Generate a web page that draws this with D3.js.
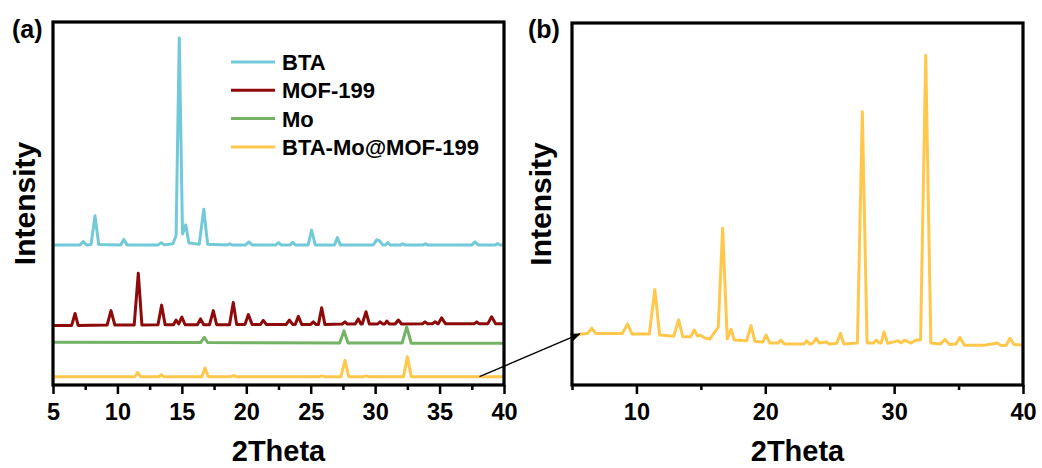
<!DOCTYPE html>
<html>
<head>
<meta charset="utf-8">
<script src="https://cdn.jsdelivr.net/npm/d3@7"></script>
<style>
	body{margin:0;background:#fff}
	text{font-family:Arial,"Liberation Sans",sans-serif;font-weight:bold;fill:#000}
</style>
</head>
<body>
<div id="fig"></div>
<script>

// ticks
var xTicksA=[5,10,15,20,25,30,35,40]
var xMinorA=[7.5,12.5,17.5,22.5,27.5,32.5,37.5]
var xTicksB=[10,20,30,40]
var xMinorB=[5,15,25,35]

var seriesNames=["BTA","MOF-199","Mo","BTA-Mo@MOF-199"]
// vertical stacking of the patterns in panel (a)
var offsets=[386,164,118,23]

// patterns: [2theta, intensity above own baseline]
var bta=[[5,0],[7.1,0],[7.35,9],[7.6,0],[7.95,1],[8.26,80],[8.55,1],[10.25,0],[10.5,15],[10.75,0],
	[13.15,0],[13.4,6],[13.65,0],[14.3,3],[14.55,25],[14.8,570],[15.05,30],[15.3,55],[15.55,5],[16.35,2],
	[16.7,98],[17.0,2],[18.5,0],[18.7,3],[18.9,0],[19.95,0],[20.2,8],[20.45,0],[22.3,0],[22.5,6],
	[22.7,0],[23.4,0],[23.6,7],[23.8,0],[24.8,0],[25.07,41],[25.35,0],[26.85,0],[27.07,20],[27.3,0],
	[29.85,0],[30.12,14],[30.35,11],[30.6,0],[30.8,0],[30.97,6],[31.15,0],[32,0],[32.14,3],[32.3,0],
	[33.75,0],[33.9,3],[34.05,0],[37.5,0],[37.75,8],[38,0],[39.35,0],[39.5,4],[39.65,0],[40,0]]

var mof=[[5,0],[6.45,0],[6.71,33],[6.95,0],[9.2,1],[9.5,41],[9.8,1],[11.3,1],[11.62,144],[11.9,1],
	[13.15,2],[13.43,56],[13.7,2],[14.35,2],[14.55,15],[14.75,4],[15.0,23],[15.25,2],[16.2,2],[16.45,18],
	[16.7,2],[17.15,2],[17.44,41],[17.7,2],[18.7,2],[18.99,63],[19.25,3],[19.9,3],[20.16,30],[20.45,3],
	[21.1,3],[21.32,14],[21.55,3],[23.1,3],[23.34,15],[23.6,3],[23.8,3],[24.04,25],[24.3,3],[25.0,3],
	[25.2,10],[25.4,3],[25.6,3],[25.85,49],[26.1,3],[27.45,4],[27.66,10],[27.85,4],[28.45,4],[28.69,18],
	[28.9,4],[29.0,4],[29.29,38],[29.55,4],[30.2,4],[30.38,10],[30.6,4],[30.75,4],[30.9,12],[31.1,4],
	[31.55,4],[31.8,15],[32.05,4],[33.7,5],[33.87,10],[34.05,5],[34.45,5],[34.65,10],[34.85,5],[34.9,5],
	[35.16,21],[35.45,5],[37.7,5],[37.88,10],[38.05,5],[38.75,5],[39.04,24],[39.35,5],[40,5]]

var mo=[[5,0],[16.45,-1],[16.74,13],[17.0,-1],[27.25,-2],[27.58,31],[27.9,-2],[32.1,-2],[32.45,42],[32.8,-3],[40,-3]]

var btaMo=[[5,0],[11.35,0],[11.57,11],[11.8,0],[13.2,0],[13.4,5],[13.6,0],[16.55,0],[16.8,24],[17.05,0],
	[18.8,0],[19.0,3],[19.2,0],[25.65,0],[25.85,2],[26.05,0],[27.35,0],[27.66,45],[27.95,0],[29.1,0],
	[29.3,2],[29.5,0],[32.2,0],[32.5,55],[32.8,0],[40,0]]

// panel (b): BTA-Mo@MOF-199 enlarged
var btaMoZoom=[[5,133],[5.7,141],[6.2,142],[6.53,157],[6.85,142],[8.9,142],[9.3,168],[9.65,141],[11.0,141],[11.43,264],
	[11.8,138],[12.9,135],[13.27,180],[13.6,133],[14.2,133],[14.49,152],[14.75,135],[14.95,138],[15.3,130],[15.7,127],
	[16.05,145],[16.35,160],[16.69,433],[17.05,127],[17.34,154],[17.6,124],[18.55,122],[18.89,164],[19.2,120],[19.8,119],
	[20.06,138],[20.35,116],[21.0,116],[21.2,124],[21.5,113],[23.0,113],[23.2,122],[23.45,113],[23.7,116],[23.94,129],
	[24.2,116],[24.7,119],[25.0,113],[25.55,115],[25.84,143],[26.1,113],[27.15,116],[27.53,755],[27.9,116],[28.4,116],
	[28.62,124],[28.85,116],[29.0,116],[29.21,147],[29.5,115],[30.3,122],[30.55,116],[30.8,124],[31.3,116],[31.7,124],
	[32.05,124],[32.45,911],[32.85,116],[33.6,113],[33.93,126],[34.3,112],[34.8,113],[35.1,132],[35.45,110],[37.0,110],
	[38.0,116],[38.3,109],[38.7,110],[38.99,129],[39.3,112],[40,110]]

var colors=["#72C9D8","#8E0A0A","#74B266","#FFC84C"]


class XrdPanel{

	constructor(svg,box,label){
		this.svg=svg
		this.box=box
		this.label=label
		this.g=svg.append("g")
		this.x=d3.scaleLinear().domain([5,40]).range([box.left,box.right])
		this.y=d3.scaleLinear().domain([0,1000]).range([box.bottom,box.top])
	}

	drawAxis(ticks,minor){
		var b=this.box
		var ax=this.g.append("g")
			.attr("transform","translate(0,"+b.bottom+")")
			.call(d3.axisBottom(this.x).tickValues(ticks).tickSize(9).tickPadding(9).tickFormat(d3.format("d")))
		ax.select(".domain").remove()
		ax.selectAll("line").attr("stroke","#000").attr("stroke-width",2.5)
		ax.selectAll("text").attr("font-size",23.5).style("font-family","Arial, 'Liberation Sans', sans-serif").style("font-weight","bold")

		var mx=this.g.append("g")
			.attr("transform","translate(0,"+b.bottom+")")
			.call(d3.axisBottom(this.x).tickValues(minor).tickSize(5).tickFormat(""))
		mx.select(".domain").remove()
		mx.selectAll("line").attr("stroke","#000").attr("stroke-width",2.5)

		var cx=(b.left+b.right)/2
		var cy=(b.top+b.bottom)/2
		this.g.append("text")
			.text("2Theta")
			.attr("x",cx)
			.attr("y",461)
			.attr("text-anchor","middle")
			.attr("font-size",29)

		this.g.append("text")
			.text("Intensity")
			.attr("transform","translate("+b.titleX+","+cy+") rotate(-90)")
			.attr("text-anchor","middle")
			.attr("dy","0.36em")
			.attr("font-size",30)

		this.g.append("text")
			.text(this.label)
			.attr("x",b.titleX-12)
			.attr("y",38)
			.attr("font-size",25)
	}

	drawLine(data,offset,color){
		var thi=this
		var line=d3.line()
			.x(function(d){ return thi.x(d[0]) })
			.y(function(d){ return thi.y(d[1]+offset) })
		return this.g.append("path")
			.datum(data)
			.attr("fill","none")
			.attr("stroke",color)
			.attr("stroke-width",3)
			.attr("stroke-linejoin","round")
			.attr("d",line)
	}

	drawFrame(){
		var b=this.box
		this.g.append("rect")
			.attr("x",b.left)
			.attr("y",b.top)
			.attr("width",b.right-b.left)
			.attr("height",b.bottom-b.top)
			.attr("fill","none")
			.attr("stroke","#000")
			.attr("stroke-width",3.2)
	}

	drawLegend(){
		var rows=this.g.selectAll(".leg")
			.data(seriesNames)
			.enter()
			.append("g")
			.attr("class","leg")
			.attr("transform",(d,i)=>"translate(231,"+(62+28.3*i)+")")

		rows.append("line")
			.attr("x1",0).attr("x2",44)
			.attr("stroke",(d,i)=>colors[i])
			.attr("stroke-width",3)

		rows.append("text")
			.text(d=>d)
			.attr("x",51)
			.attr("dy","0.36em")
			.attr("font-size",22)
	}
}


var svg=d3.select("#fig").append("svg")
	.attr("width",1042)
	.attr("height",468)

var pa=new XrdPanel(svg,{left:53,right:504,top:22,bottom:385,titleX:24},"(a)")
var series=[bta,mof,mo,btaMo]
series.forEach(function(s,i){
	pa.drawLine(s,offsets[i],colors[i])
})
pa.drawAxis(xTicksA,xMinorA)
pa.drawLegend()
pa.drawFrame()

var pb=new XrdPanel(svg,{left:572,right:1023,top:23,bottom:385,titleX:540},"(b)")
pb.drawLine(btaMoZoom,0,colors[3])
pb.drawAxis(xTicksB,xMinorB)
pb.drawFrame()

// arrow from the (a) pattern to panel (b)
svg.append("defs").append("marker")
	.attr("id","head")
	.attr("viewBox","0 0 10 10")
	.attr("refX",9).attr("refY",5)
	.attr("markerWidth",7).attr("markerHeight",7)
	.attr("orient","auto")
	.append("path")
	.attr("d","M0,1 L10,5 L0,9 z")
	.attr("fill","#000")

svg.append("line")
	.attr("x1",pa.x(38.1)).attr("y1",pa.y(offsets[3]))
	.attr("x2",pb.x(5.6)).attr("y2",pb.y(btaMoZoom[1][1]))
	.attr("stroke","#000")
	.attr("stroke-width",1.4)
	.attr("marker-end","url(#head)")

</script>
</body>
</html>
